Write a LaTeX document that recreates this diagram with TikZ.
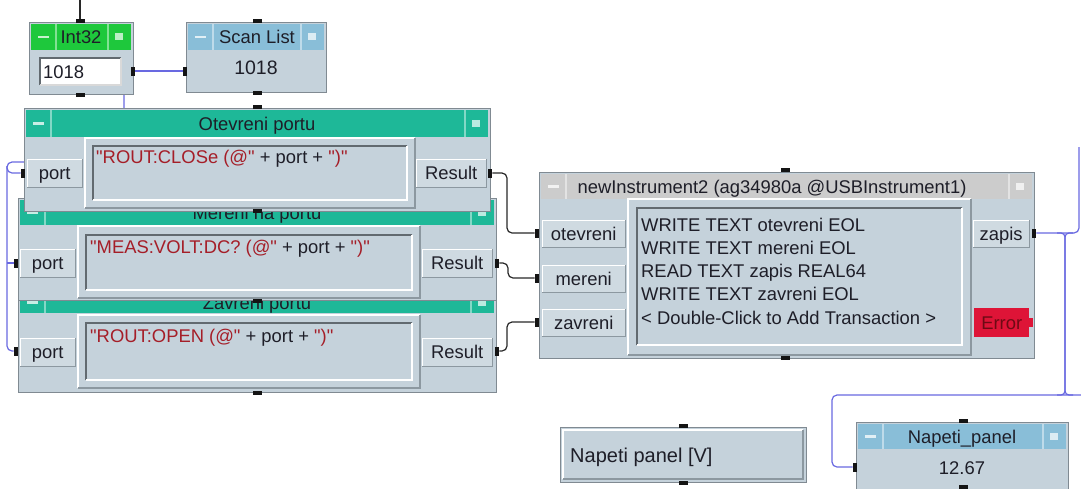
\documentclass[tikz,border=0pt]{standalone}
\usepackage{fontspec}
\setmainfont{Liberation Sans}[Ligatures=TeXOff]
\usetikzlibrary{calc}
\definecolor{bodyc}{RGB}{197,210,219}
\definecolor{labc}{RGB}{207,218,225}
\definecolor{frc}{RGB}{128,138,146}
\definecolor{shc}{RGB}{140,152,160}
\definecolor{tealc}{RGB}{30,184,152}
\definecolor{greenc}{RGB}{30,200,60}
\definecolor{lblue}{RGB}{137,190,216}
\definecolor{grayt}{RGB}{204,204,204}
\definecolor{errc}{RGB}{222,20,55}
\definecolor{errt}{RGB}{110,10,20}
\definecolor{wblue}{RGB}{105,105,225}
\definecolor{wblack}{RGB}{40,40,40}
\definecolor{fred}{RGB}{165,30,40}
\definecolor{txt}{RGB}{30,30,40}
\definecolor{tabc}{RGB}{20,20,20}
\pgfdeclarelayer{back}\pgfdeclarelayer{wires}\pgfsetlayers{back,wires,main}
\newcommand\myfs{\fontsize{18.4}{22}\selectfont}
\newcommand\bigfs{\fontsize{20}{24}\selectfont}
\tikzset{
 ttext/.style={font=\myfs, text=txt, inner sep=0, text height=13pt, text depth=0pt},
 ftext/.style={font=\myfs, text=txt, inner sep=0, text height=13pt, text depth=0pt, anchor=west},
 labst/.style={fill=labc, inner sep=0, font=\myfs, text=txt, text height=13pt, text depth=0pt},
 frame/.style={fill=bodyc, draw=frc, line width=1pt, inner sep=0},
 htab/.style={fill=tabc, minimum width=9pt, minimum height=4.5pt, inner sep=0},
 vtab/.style={fill=tabc, minimum width=4.5pt, minimum height=9pt, inner sep=0},
 wb/.style={draw=wblue, line width=1.2pt},
 wk/.style={draw=wblack, line width=1.2pt},
}
% frame: name x y w h
\newcommand\frm[5]{\node[frame, anchor=north west, minimum width=#4pt, minimum height=#5pt] (#1) at (#2,#3) {};}
% title bar: name x1 y1 x2 y2 colour textcenterx text
\newcommand\vtitle[8]{%
 \fill[#6] (#2,#3) rectangle (#4,#5);
 \draw[white!45!#6, line width=1.2pt] (#2+25,#3) -- (#2+25,#5) (#4-23,#3) -- (#4-23,#5);
 \draw[white!75!#6, line width=2.2pt] (#2+7,{(#3+#5)/2}) -- (#2+18,{(#3+#5)/2});
 \fill[white!70!#6] (#4-16,{(#3+#5)/2-4}) rectangle (#4-8,{(#3+#5)/2+3});
 \node[ttext] (#1) at (#7,{(#3+#5)/2}) {#8};
}
% label: name x y w h text
\newcommand\lab[6]{%
 \node[labst, anchor=north west, minimum width=#4pt, minimum height=#5pt] (#1) at (#2,#3) {#6};
 \draw[white, line width=1pt] (#1.south west) -- (#1.north west) -- (#1.north east);
 \draw[shc, line width=1pt] (#1.south west) -- (#1.south east) -- (#1.north east);
}
\newcommand\raisedr[4]{%
 \fill[bodyc] (#1,#2) rectangle (#3,#4);
 \draw[white, line width=1.5pt] (#1,#4) -- (#1,#2) -- (#3,#2);
 \draw[shc, line width=1.5pt] (#1,#4) -- (#3,#4) -- (#3,#2);
}
\newcommand\sunkenr[4]{%
 \fill[bodyc] (#1,#2) rectangle (#3,#4);
 \draw[shc!70!black, line width=1.5pt] (#1,#4) -- (#1,#2) -- (#3,#2);
 \draw[white, line width=1.5pt] (#1,#4) -- (#3,#4) -- (#3,#2);
}
\begin{document}
\begin{tikzpicture}[x=1pt,y=-1pt]
\useasboundingbox (0,0) rectangle (1081,488);
\begin{pgfonlayer}{back}\fill[white] (0,0) rectangle (1081,488);\end{pgfonlayer}

% ---------- Int32
\frm{i32}{29}{22}{104}{72}
\vtitle{i32t}{31}{24}{131}{50}{greenc}{81}{Int32}
\fill[white] (40,58) rectangle (121,85);
\draw[shc!70!black, line width=1.5pt] (40,85) -- (40,58) -- (121,58);
\draw[white!85!black, line width=1.5pt] (40,85) -- (121,85) -- (121,58);
\node[ttext, anchor=west] (i32v) at (43,72) {1018};
\node[htab] (i32top) at (80,21) {};
\node[htab] (i32bot) at (80,95) {};
\node[vtab] (i32out) at (133,71) {};

% ---------- Scan List
\frm{sl}{186}{22}{140}{70}
\vtitle{slt}{188}{24}{324}{50}{lblue}{257}{Scan List}
\node[ttext, font=\fontsize{19.5}{23}\selectfont] (slv) at (256,68) {1018};
\node[htab] (sltop) at (257,21) {};
\node[htab] (slbot) at (257,93) {};
\node[vtab] (slin) at (185,71) {};

% ---------- Zavreni portu (bottom)
\frm{b3}{18}{290}{478}{102}
\vtitle{b3t}{20}{292}{494}{313}{tealc}{257}{Zavreni portu}
\raisedr{78}{315}{420}{388}
\sunkenr{86}{323}{412}{380}
\node[ftext] (b3f) at (90,336) {\color{fred}"ROUT:OPEN (@" \color{txt}+ port + \color{fred}")"};
\lab{b3p}{20}{338}{55}{28}{port}
\lab{b3r}{422}{338}{70}{28}{Result}
\node[vtab] (b3in) at (16,351) {};
\node[vtab] (b3out) at (497,351) {};
\node[htab] (b3bot) at (257,393) {};

% ---------- Mereni na portu (middle)
\frm{b2}{18}{198}{478}{102}
\vtitle{b2t}{20}{200}{494}{225}{tealc}{257}{Mereni na portu}
\raisedr{78}{226}{420}{298}
\sunkenr{86}{235}{412}{290}
\node[ftext] (b2f) at (90,247) {\color{fred}"MEAS:VOLT:DC? (@" \color{txt}+ port + \color{fred}")"};
\lab{b2p}{20}{249}{55}{28}{port}
\lab{b2r}{422}{249}{70}{28}{Result}
\node[vtab] (b2in) at (16,263) {};
\node[vtab] (b2out) at (497,263) {};
\node[htab] (b2bot) at (257,301) {};

% ---------- Otevreni portu (top)
\frm{b1}{24}{108}{466}{103}
\vtitle{b1t}{26}{110}{488}{137}{tealc}{257}{Otevreni portu}
\raisedr{85}{138}{415}{208}
\sunkenr{93}{146}{407}{200}
\node[ftext] (b1f) at (96,157) {\color{fred}"ROUT:CLOSe (@" \color{txt}+ port + \color{fred}")"};
\lab{b1p}{27}{159}{55}{28}{port}
\lab{b1r}{416}{159}{70}{28}{Result}
\node[vtab] (b1in) at (23,173) {};
\node[vtab] (b1out) at (490,173) {};
\node[htab] (b1top) at (257,107) {};
\node[htab] (b1bot) at (257,211) {};

% ---------- newInstrument2
\frm{ni}{539}{172}{495}{186}
\vtitle{nit}{541}{174}{1032}{199}{grayt}{772}{newInstrument2 (ag34980a @USBInstrument1)}
\raisedr{628}{199}{971}{355}
\sunkenr{637}{208}{962}{345}
\node[ftext] (tr1) at (641,225) {WRITE TEXT otevreni EOL};
\node[ftext] (tr2) at (641,248) {WRITE TEXT mereni EOL};
\node[ftext] (tr3) at (641,271) {READ TEXT zapis REAL64};
\node[ftext] (tr4) at (641,294) {WRITE TEXT zavreni EOL};
\node[ftext] (tr5) at (641,318) {< Double-Click to Add Transaction >};
\lab{nio}{542}{220}{83}{27}{otevreni}
\lab{nim}{542}{265}{83}{27}{mereni}
\lab{niz}{542}{309}{83}{27}{zavreni}
\lab{nizp}{973}{220}{56}{27}{zapis}
\node[fill=errc, anchor=north west, minimum width=55pt, minimum height=29pt, inner sep=0, font=\myfs, text=errt, text height=13pt, text depth=0pt] (nie) at (974,308) {Error};
\node[vtab] (nii1) at (537,233) {};
\node[vtab] (nii2) at (537,278) {};
\node[vtab] (nii3) at (537,322) {};
\node[vtab] (nizo) at (1034,233) {};
\node[vtab, fill=errc] (nieo) at (1031,322) {};
\node[htab] (nitop) at (785,170) {};
\node[htab] (nibot) at (785,358) {};

% ---------- Napeti panel [V]
\node[frame, anchor=north west, minimum width=246pt, minimum height=55pt] (np) at (560,427) {};
\draw[white, line width=1.2pt] (563,479) -- (563,430) -- (803,430);
\draw[shc, line width=1.2pt] (563,479) -- (803,479) -- (803,430);
\node[ttext, anchor=west, font=\bigfs, text height=14pt] (npt) at (570,455) {Napeti panel [V]};
\node[htab] (nptop) at (683,426) {};
\node[htab] (npbot) at (683,483) {};

% ---------- Napeti_panel
\frm{nv}{856}{422}{212}{70}
\vtitle{nvt}{858}{424}{1066}{449}{lblue}{962}{Napeti\_panel}
\node[ttext] (nvv) at (962,468) {12.67};
\node[htab] (nvtop) at (963,421) {};
\node[vtab] (nvin) at (855,467) {};
\node[htab] (nvbot) at (963,487) {};

% ---------- wires
\coordinate (topin) at (80,0);
\coordinate (topend) at (1079,147);
\coordinate (rightend) at (1082,395);
\begin{pgfonlayer}{wires}
\draw[wk] (i32top) -- (topin);
\draw[wb] (i32out) -- (slin);
\draw[wb, rounded corners=5pt] (i32out.west) -- (124,71) -- (124,162) -- (7,162) -- (7,173) -- (b1in);
\draw[wb, rounded corners=5pt] (7,166) -- (7,351) -- (b3in);
\draw[wb] (7,263) -- (b2in);
\draw[wk, rounded corners=5pt] (b1out) -- (507,173) -- (507,233) -- (nii1);
\draw[wk, rounded corners=5pt] (b2out) -- (508,263) -- (508,278) -- (nii2);
\draw[wk, rounded corners=5pt] (b3out) -- (507,351) -- (507,322) -- (nii3);
\draw[wb, rounded corners=5pt] (nizo) -- (1079,233) -- (topend);
\draw[wb, rounded corners=4pt] (1057,233) -- (1065,233) -- (1065,395) -- (1057,395);
\draw[wb, rounded corners=4pt] (1073,233) -- (1065,233) -- (1065,395) -- (1073,395);
\draw[wb, rounded corners=5pt] (rightend) -- (832,395) -- (832,467) -- (nvin);
\end{pgfonlayer}
\end{tikzpicture}
\end{document}
